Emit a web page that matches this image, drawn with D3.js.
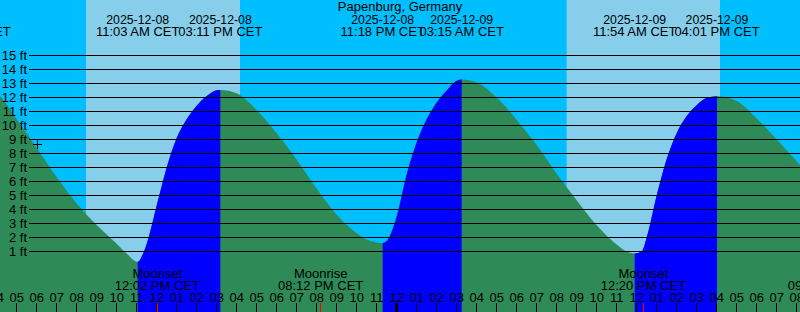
<!DOCTYPE html>
<html>
<head>
<meta charset="utf-8">
<script src="https://cdn.jsdelivr.net/npm/d3@7"></script>
<style>
  html, body { margin: 0; padding: 0; background: #00bfff; }
  svg { display: block; font-family: "Liberation Sans", Arial, sans-serif; }
</style>
</head>
<body>
<svg id="chart" width="800" height="312"></svg>
<script>
// --- data ---
const stationName = "Papenburg, Germany";
const tzLabel = "CET";

const chartStart = "2025-12-08 04:10";
const chartEnd = "2025-12-09 20:10";

// high / low water events
const extremeTimes = [
  "2025-12-08 02:35", "2025-12-08 11:03", "2025-12-08 15:11", "2025-12-08 23:18",
  "2025-12-09 03:15", "2025-12-09 11:54", "2025-12-09 16:01"
];
const extremeHeights = [12.7, 0.26, 12.54, 1.61, 13.28, 0.86, 12.09];
const extremeKinds = ["high", "low", "high", "low", "high", "low", "high"];

// water level between the events (ft)
const sampleTimes = [
  "2025-12-08 04:00", "2025-12-08 05:00", "2025-12-08 06:00", "2025-12-08 07:00",
  "2025-12-08 08:00", "2025-12-08 09:00", "2025-12-08 10:00", "2025-12-08 10:30",
  "2025-12-08 11:15", "2025-12-08 11:30", "2025-12-08 12:00", "2025-12-08 12:30",
  "2025-12-08 13:00", "2025-12-08 13:30", "2025-12-08 14:00", "2025-12-08 14:30",
  "2025-12-08 15:00", "2025-12-08 16:00", "2025-12-08 17:00", "2025-12-08 18:00",
  "2025-12-08 19:00", "2025-12-08 20:00", "2025-12-08 21:00", "2025-12-08 22:00",
  "2025-12-08 22:30", "2025-12-08 23:00", "2025-12-08 23:30", "2025-12-09 00:00",
  "2025-12-09 00:30", "2025-12-09 01:00", "2025-12-09 01:30", "2025-12-09 02:00",
  "2025-12-09 02:30", "2025-12-09 03:00", "2025-12-09 04:00", "2025-12-09 05:00",
  "2025-12-09 06:00", "2025-12-09 07:00", "2025-12-09 08:00", "2025-12-09 09:00",
  "2025-12-09 10:00", "2025-12-09 11:00", "2025-12-09 11:30", "2025-12-09 12:15",
  "2025-12-09 12:30", "2025-12-09 13:00", "2025-12-09 13:30", "2025-12-09 14:00",
  "2025-12-09 14:30", "2025-12-09 15:00", "2025-12-09 15:30", "2025-12-09 17:00",
  "2025-12-09 18:00", "2025-12-09 19:00", "2025-12-09 20:00", "2025-12-09 21:00"
];
const sampleHeights = [
  12.25, 10.45, 8.4, 6.33,
  4.43, 2.89, 1.55, 0.85,
  0.65, 1.54, 4.28, 7.0,
  9.1, 10.44, 11.41, 12.1,
  12.52, 12.3, 11.1, 9.45,
  7.56, 5.5, 3.62, 2.3,
  1.85, 1.65, 1.75, 3.5,
  6.5, 8.8, 10.45, 11.65,
  12.5, 13.2, 13.07, 12.0,
  10.4, 8.6, 6.55, 4.66,
  2.87, 1.5, 1.0, 1.0,
  2.0, 5.0, 7.6, 9.45,
  10.67, 11.45, 11.98, 11.75,
  10.5, 9.0, 7.45, 5.8
];

const sunriseTimes = ["2025-12-08 08:28", "2025-12-09 08:30"];
const sunsetTimes = ["2025-12-08 16:10", "2025-12-09 16:10"];

const moonTimes = ["2025-12-08 12:02", "2025-12-08 20:12", "2025-12-09 12:20", "2025-12-09 21:41"];
const moonKinds = ["Moonset", "Moonrise", "Moonset", "Moonrise"];

const heightTicks = [1, 2, 3, 4, 5, 6, 7, 8, 9, 10, 11, 12, 13, 14, 15];

const nowTime = "2025-12-08 06:02";
const nowHeight = 8.65;

// --- setup ---
const parse = d3.timeParse("%Y-%m-%d %H:%M");
const fmtDate = d3.timeFormat("%Y-%m-%d");
const fmtClock = d3.timeFormat("%I:%M %p");

const svg = d3.select("#chart");
const width = +svg.attr("width");
const height = +svg.attr("height");

const x = d3.scaleTime()
  .domain([parse(chartStart), parse(chartEnd)])
  .range([0, width]);

const y = d3.scaleLinear()
  .domain([0, 15])
  .range([265.5, 55.5]);

// sky: night, then day bands
svg.append("rect")
  .attr("width", width).attr("height", height)
  .attr("fill", "#00bfff");

svg.selectAll("rect.day")
  .data(sunriseTimes.map((t, i) => [parse(t), parse(sunsetTimes[i])]))
  .join("rect")
  .attr("class", "day")
  .attr("x", d => x(d[0]))
  .attr("width", d => x(d[1]) - x(d[0]))
  .attr("y", 0).attr("height", height)
  .attr("fill", "#87ceeb");

// water
const events = extremeTimes.map((t, i) => ({ t: parse(t), h: extremeHeights[i], kind: extremeKinds[i] }));
const tide = events
  .map(d => ({ t: d.t, h: d.h }))
  .concat(sampleTimes.map((t, i) => ({ t: parse(t), h: sampleHeights[i] })))
  .sort((a, b) => a.t - b.t);

const area = d3.area()
  .x(d => x(d.t))
  .y0(height)
  .y1(d => y(d.h))
  .curve(d3.curveMonotoneX);

svg.append("clipPath")
  .attr("id", "water")
  .append("path")
  .attr("d", area(tide));

const water = svg.append("g").attr("clip-path", "url(#water)");

water.append("rect")
  .attr("width", width).attr("height", height)
  .attr("fill", "#2e8b57");

// rising tide: from each low to the next high
const rising = [];
events.forEach((d, i) => {
  if (d.kind === "low" && events[i + 1]) rising.push([d.t, events[i + 1].t]);
});

water.selectAll("rect.flood")
  .data(rising)
  .join("rect")
  .attr("class", "flood")
  .attr("x", d => x(d[0]))
  .attr("width", d => x(d[1]) - x(d[0]))
  .attr("y", 0).attr("height", height)
  .attr("fill", "#0000ff");

// level lines + labels
svg.selectAll("line.level")
  .data(heightTicks)
  .join("line")
  .attr("class", "level")
  .attr("x1", 29).attr("x2", width)
  .attr("y1", d => y(d)).attr("y2", d => y(d))
  .attr("stroke", "#000")
  .attr("shape-rendering", "crispEdges");

svg.selectAll("text.level")
  .data(heightTicks)
  .join("text")
  .attr("class", "level")
  .attr("x", 27)
  .attr("y", d => y(d) + 4.5)
  .attr("text-anchor", "end")
  .attr("font-size", 13)
  .text(d => d + " ft");

// current time marker
const nx = x(parse(nowTime)), ny = y(nowHeight);
svg.append("path")
  .attr("d", `M${nx - 4.5},${ny}H${nx + 4.5}M${nx},${ny - 4.5}V${ny + 4.5}`)
  .attr("stroke", "#000")
  .attr("shape-rendering", "crispEdges");

// title + event labels
svg.append("text")
  .attr("x", 400).attr("y", 11)
  .attr("text-anchor", "middle")
  .attr("font-size", 13)
  .text(stationName);

const evLabels = svg.selectAll("g.event")
  .data(events)
  .join("g")
  .attr("class", "event")
  .attr("transform", d => `translate(${x(d.t)},0)`)
  .attr("text-anchor", "middle")
  .attr("font-size", 13);

evLabels.append("text").attr("y", 24).attr("font-size", 12.3).text(d => fmtDate(d.t));
evLabels.append("text").attr("y", 36).text(d => fmtClock(d.t) + " " + tzLabel);

// moon labels
const moon = moonTimes.map((t, i) => ({ t: parse(t), kind: moonKinds[i] }));

const moonLabels = svg.selectAll("g.moon")
  .data(moon)
  .join("g")
  .attr("class", "moon")
  .attr("transform", d => `translate(${x(d.t)},0)`)
  .attr("text-anchor", "middle")
  .attr("font-size", 13);

moonLabels.append("text").attr("y", 278).text(d => d.kind);
moonLabels.append("text").attr("y", 290).text(d => fmtClock(d.t) + " " + tzLabel);

// hour axis along the bottom
const hourTicks = d3.timeHour.range(parse("2025-12-08 04:00"), parse("2025-12-09 21:00"));

const axis = svg.append("g")
  .attr("transform", `translate(0,${height})`)
  .call(d3.axisTop(x)
    .tickValues(hourTicks)
    .tickFormat(d3.timeFormat("%I"))
    .tickSize(9)
    .tickPadding(1.5)
    .offset(0))
  .attr("font-size", 13)
  .attr("font-family", null);

axis.select(".domain").remove();
axis.selectAll(".tick line")
  .attr("stroke", "#000")
  .attr("shape-rendering", "crispEdges")
  .attr("stroke-width", d => d.getHours() === 0 ? 3 : 1);
axis.selectAll(".tick text").attr("fill", "#000");

svg.selectAll("line.moontick")
  .data(moon)
  .join("line")
  .attr("class", "moontick")
  .attr("x1", d => x(d.t)).attr("x2", d => x(d.t))
  .attr("y1", height - 9).attr("y2", height)
  .attr("stroke", "#ff0000")
  .attr("shape-rendering", "crispEdges");
</script>
</body>
</html>
